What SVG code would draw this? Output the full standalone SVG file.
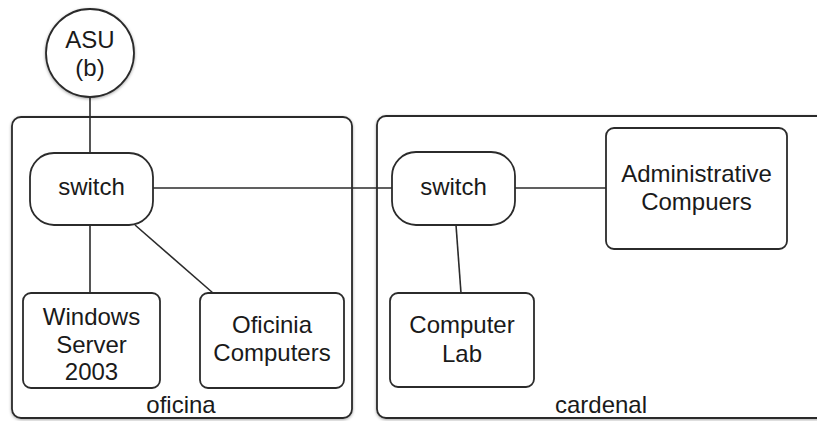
<svg xmlns="http://www.w3.org/2000/svg" width="817" height="421" viewBox="0 0 817 421">
<defs>
<filter id="sh" x="-10%" y="-10%" width="120%" height="120%">
<feDropShadow dx="0" dy="1" stdDeviation="1.5" flood-color="#000" flood-opacity="0.35"/>
</filter>
</defs>
<style>
.box{fill:#fff;stroke:#2b2b2b;stroke-width:1.8}
.ln{stroke:#2b2b2b;stroke-width:1.6;fill:none}
text{font-family:"Liberation Sans",Arial,Helvetica,sans-serif;font-size:24px;fill:#1a1a1a;text-anchor:middle}
</style>
<rect width="817" height="421" fill="#fff"/>
<g id="oficina">
<rect class="box" x="12" y="117" width="340" height="301" rx="9" filter="url(#sh)"/>
<text x="181" y="413">oficina</text>
</g>
<g id="cardenal">
<rect class="box" x="377" y="116" width="460" height="302" rx="9" filter="url(#sh)"/>
<text x="601" y="413">cardenal</text>
</g>
<g id="connectors">
<line class="ln" x1="90" y1="97" x2="90" y2="153"/>
<line class="ln" x1="153" y1="188" x2="392" y2="188"/>
<line class="ln" x1="90" y1="225" x2="90" y2="293"/>
<line class="ln" x1="135" y1="225" x2="213" y2="293"/>
<line class="ln" x1="515" y1="188" x2="606" y2="188"/>
<line class="ln" x1="456" y1="225" x2="461" y2="293"/>
</g>
<g id="asu">
<circle class="box" cx="90" cy="53" r="44" filter="url(#sh)"/>
<text x="90" y="48">ASU</text>
<text x="90" y="76">(b)</text>
</g>
<g id="switch1">
<rect class="box" x="30" y="153" width="123" height="72" rx="24"/>
<text x="91.5" y="195">switch</text>
</g>
<g id="windows">
<rect class="box" x="23" y="293" width="137" height="95" rx="8"/>
<text x="91.5" y="325">Windows</text>
<text x="91.5" y="353">Server</text>
<text x="91.5" y="380">2003</text>
</g>
<g id="oficinia">
<rect class="box" x="200" y="293" width="144" height="95" rx="8"/>
<text x="272" y="333">Oficinia</text>
<text x="272" y="361">Computers</text>
</g>
<g id="switch2">
<rect class="box" x="392" y="152" width="123" height="73" rx="24"/>
<text x="453.5" y="195">switch</text>
</g>
<g id="admin">
<rect class="box" x="606" y="128" width="181" height="121" rx="8"/>
<text x="696.5" y="182">Administrative</text>
<text x="696.5" y="210">Compuers</text>
</g>
<g id="lab">
<rect class="box" x="390" y="293" width="144" height="94" rx="8"/>
<text x="462" y="333">Computer</text>
<text x="462" y="362">Lab</text>
</g>
</svg>
